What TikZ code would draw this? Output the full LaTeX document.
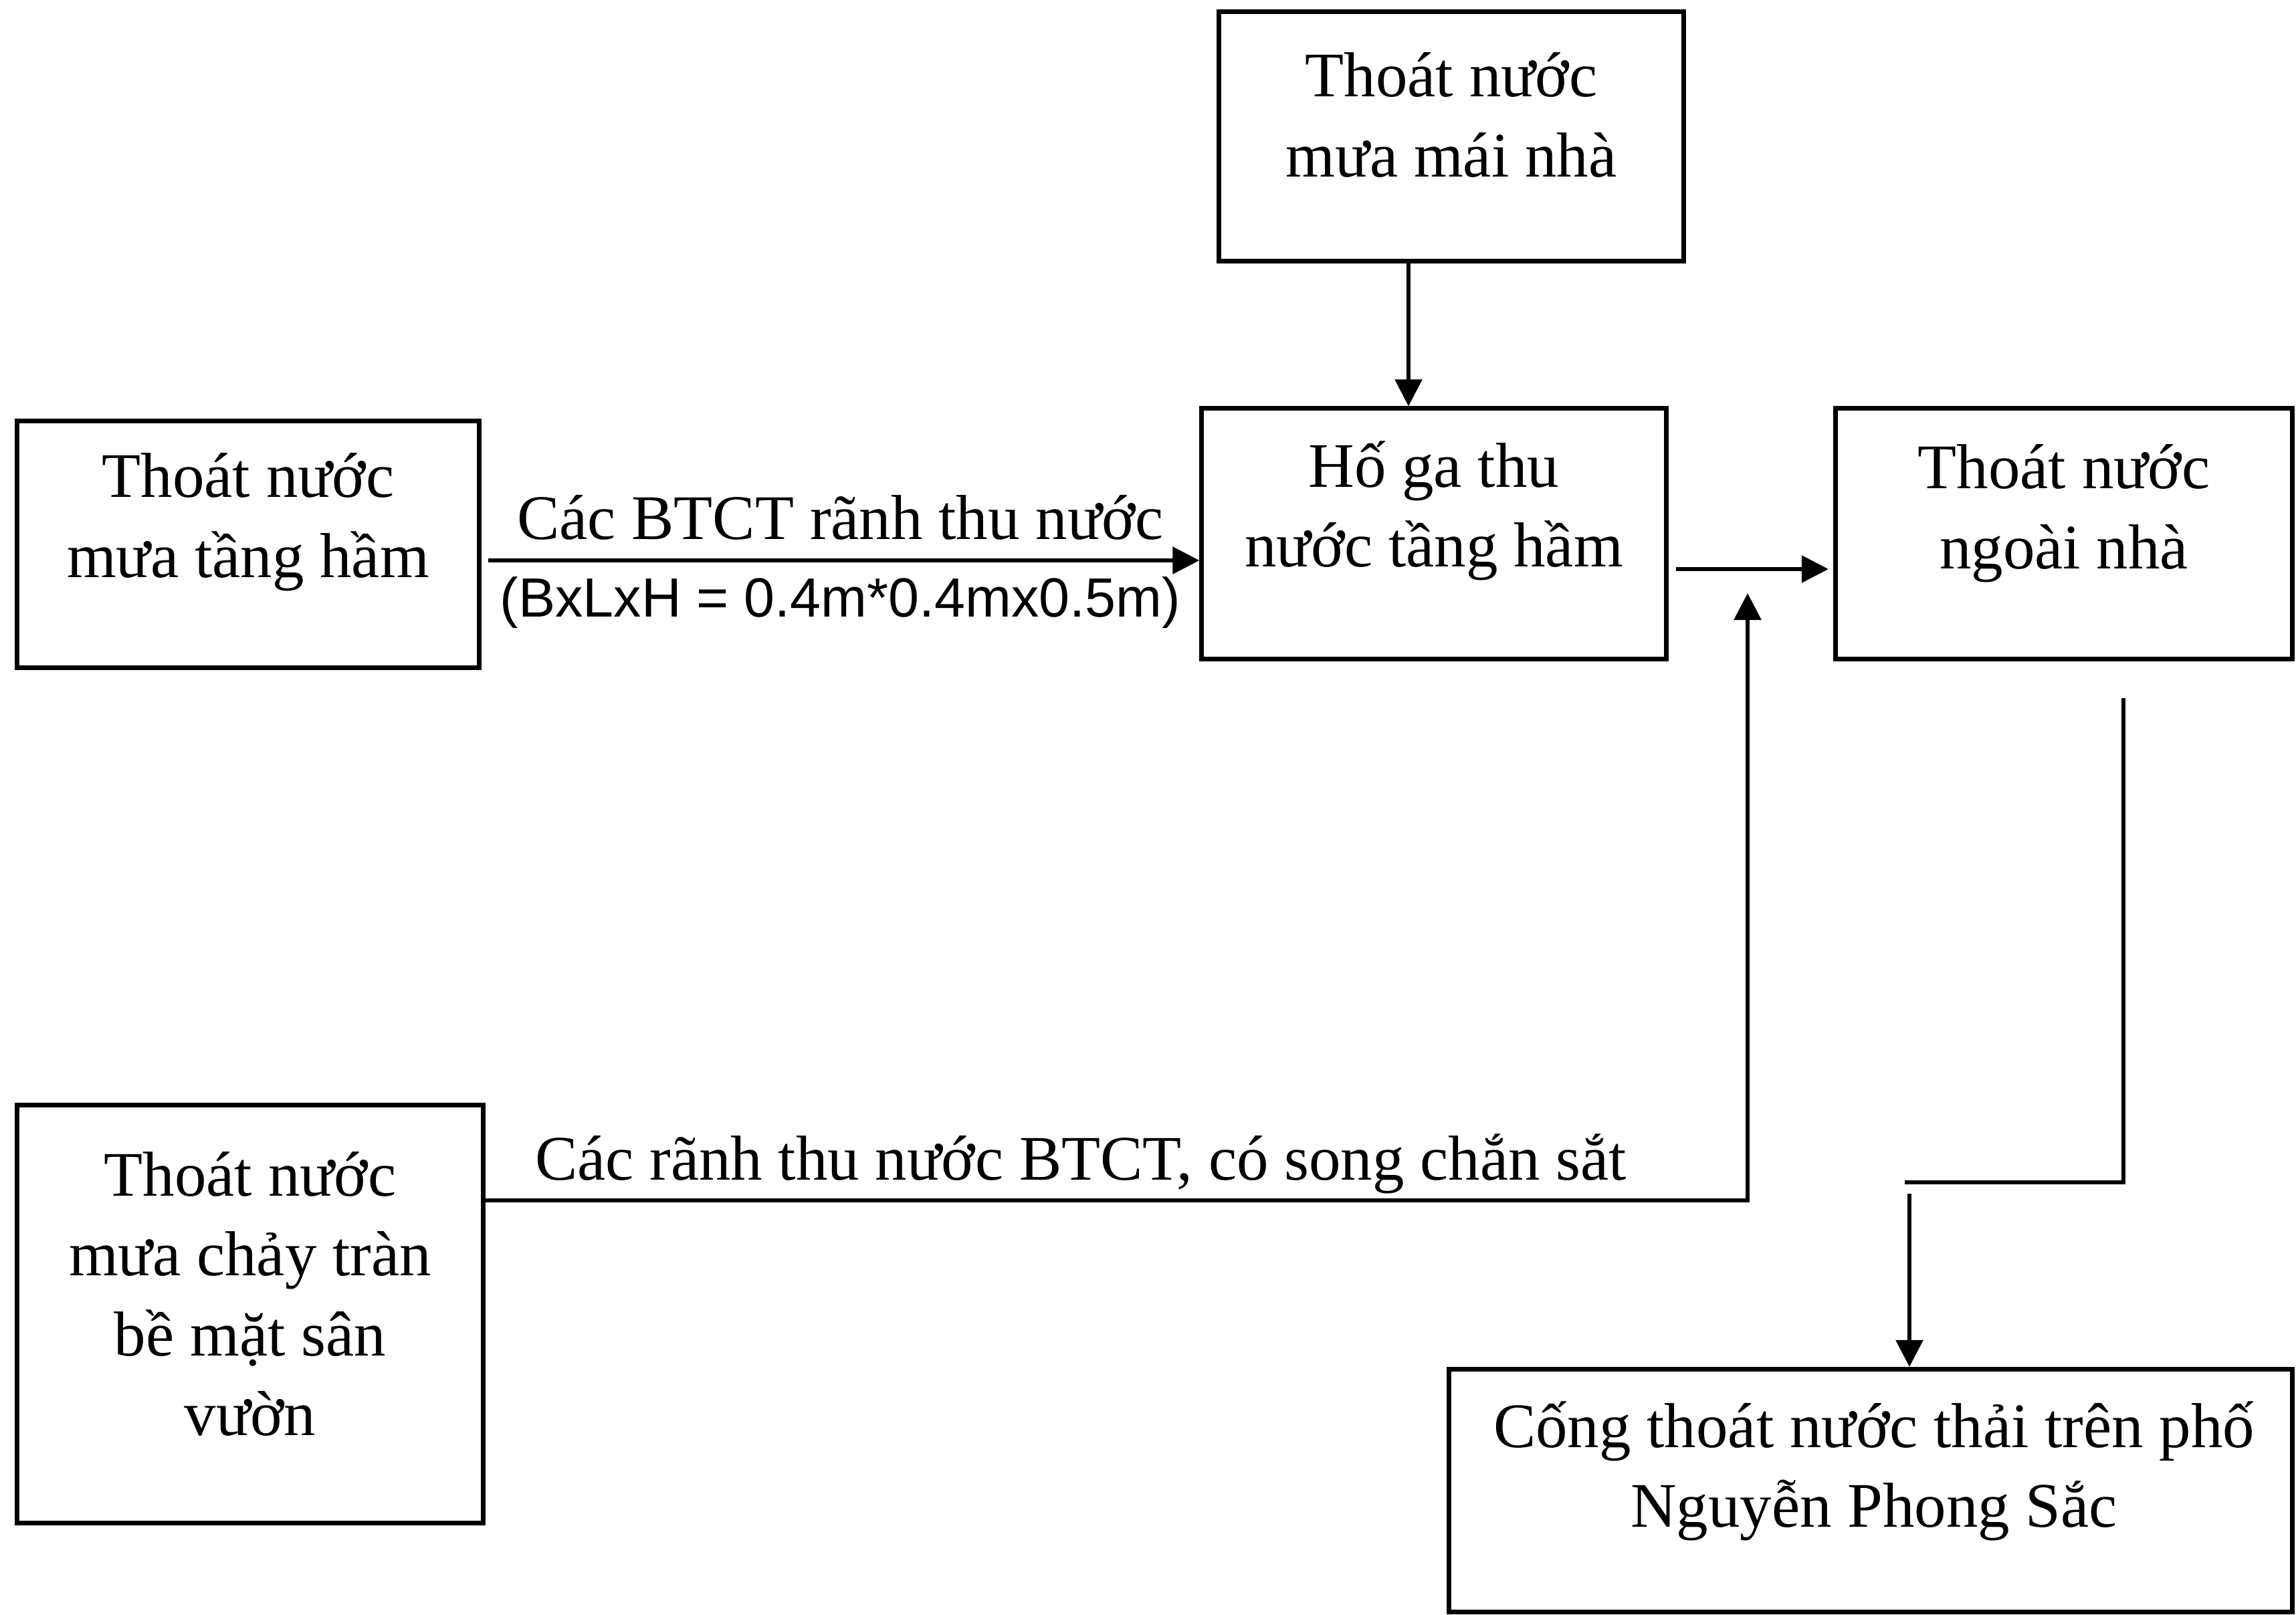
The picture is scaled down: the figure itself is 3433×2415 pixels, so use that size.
\documentclass[tikz,border=0pt]{standalone}
\usepackage{fontspec}
\setmainfont{Liberation Serif}
\newfontfamily\dimfont{Liberation Sans}
\usetikzlibrary{arrows.meta}
\begin{document}
\begin{tikzpicture}[x=0.01cm,y=-0.01cm,
  boxnode/.style={draw,line width=2pt,rectangle,inner sep=0pt},
  txt/.style={align=center,inner sep=0pt,font=\fontsize{27}{34}\selectfont},
  lbl/.style={inner sep=0pt,font=\fontsize{27}{34}\selectfont},
  dimlbl/.style={inner sep=0pt,font=\dimfont\fontsize{23.5}{28}\selectfont},
  conn/.style={line width=1.6pt},
  arr/.style={line width=1.6pt,-{Triangle[length=0.4cm,width=0.4cm]}}]
\useasboundingbox (0,0) rectangle (3433,2415);
\fill[white] (0,0) rectangle (3433,2415);
% boxes
\node[boxnode,minimum width=6.94cm,minimum height=3.72cm] (A) at (2170,204) {};
\node[boxnode,minimum width=6.94cm,minimum height=3.74cm] (B) at (2144,798) {};
\node[boxnode,minimum width=6.90cm,minimum height=3.68cm] (C) at (371,814) {};
\node[boxnode,minimum width=6.83cm,minimum height=3.74cm] (D) at (3086,798) {};
\node[boxnode,minimum width=6.96cm,minimum height=6.24cm] (E) at (374,1965) {};
\node[boxnode,minimum width=12.61cm,minimum height=3.63cm] (F) at (2797,2229) {};
% texts
\node[txt] (tA) at (2170,172) {Thoát nước\\mưa mái nhà};
\node[txt] (tB) at (2144,764) {Hố ga thu\\nước tầng hầm};
\node[txt] (tC) at (371,781) {Thoát nước\\mưa tầng hầm};
\node[txt] (tD) at (3086,768) {Thoát nước\\ngoài nhà};
\node[txt] (tE) at (374,1935) {Thoát nước\\mưa chảy tràn\\bề mặt sân\\vườn};
\node[txt] (tF) at (2802,2200) {Cống thoát nước thải trên phố\\Nguyễn Phong Sắc};
% helper coordinates
\coordinate (xa) at (2106,0);
\coordinate (yc) at (0,838);
\coordinate (yb) at (0,851);
\coordinate (ye) at (0,1795);
\coordinate (xv) at (2613,0);
\coordinate (tipv) at (2613,887);
\coordinate (xd) at (3175,0);
\coordinate (bend) at (2848,1768);
\coordinate (fstart) at (2855,1785);
% connectors
\draw[arr] (A.south -| xa) -- (B.north -| xa);
\draw[arr,shorten <=0.1cm] (C.east |- yc) -- (B.west |- yc)
  node[lbl,midway,above=0.28cm] (l1) {Các BTCT rãnh thu nước}
  node[dimlbl,midway,below=0.22cm] (l2) {(BxLxH = 0.4m*0.4mx0.5m)};
\draw[arr,shorten <=0.11cm,shorten >=0.07cm] (B.east |- yb) -- (D.west |- yb);
\draw[arr] (E.east |- ye) -- (xv |- ye) -- (tipv);
\node[lbl] (l3) at (1616,1740) {Các rãnh thu nước BTCT, có song chắn sắt};
\draw[conn,shorten <=0.55cm] (D.south -| xd) -- (xd |- bend) -- (bend);
\draw[arr] (fstart) -- (F.north -| fstart);
\end{tikzpicture}
\end{document}
